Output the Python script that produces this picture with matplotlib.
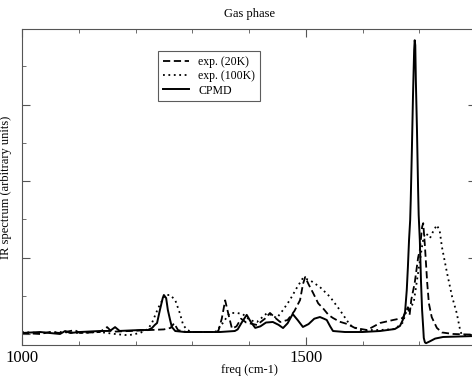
import matplotlib.pyplot as plt
from matplotlib.ticker import MultipleLocator, FixedLocator

# CPMD (solid)
cpmd_x = [1000, 1032, 1049, 1067, 1076, 1085, 1102, 1137, 1155, 1164, 1172, 1208,
          1222, 1229, 1234, 1238, 1243, 1248, 1250, 1254, 1257, 1261, 1264, 1270, 1287,
          1314, 1349, 1375, 1380, 1388, 1396, 1403, 1411, 1420, 1430, 1442, 1452, 1460,
          1468, 1477, 1486, 1495, 1505, 1515, 1525, 1532, 1537, 1543, 1548, 1569, 1600,
          1631, 1657, 1666, 1671, 1675, 1678, 1680, 1682, 1684, 1685, 1687, 1689, 1691,
          1692, 1693, 1694, 1696, 1698, 1699, 1701, 1703, 1705, 1707, 1708, 1710, 1712,
          1719, 1728, 1742, 1800]
cpmd_y = [0.013, 0.026, 0.013, 0.0, 0.039, 0.013, 0.026, 0.039, 0.04, 0.09, 0.04, 0.052,
          0.052, 0.078, 0.118, 0.144, 0.314, 0.47, 0.51, 0.47, 0.314, 0.183, 0.092, 0.039, 0.026,
          0.026, 0.026, 0.039, 0.06, 0.16, 0.25, 0.16, 0.08, 0.1, 0.15, 0.157, 0.12, 0.078,
          0.14, 0.261, 0.18, 0.092, 0.13, 0.2, 0.222, 0.2, 0.183, 0.1, 0.039, 0.026, 0.026,
          0.039, 0.065, 0.105, 0.183, 0.288, 0.575, 0.876, 1.229, 1.49, 1.752, 2.405, 3.124, 3.712,
          3.843, 3.778, 3.32, 2.667, 1.882, 1.556, 1.229, 0.706, 0.314, 0.078, -0.052, -0.11, -0.12,
          -0.095, -0.06, -0.039, -0.026]

# exp. (20K) (dashed)
k20_x = [1000, 1032, 1049, 1067, 1085, 1093, 1102, 1137, 1150, 1158, 1190, 1226, 1250,
         1262, 1268, 1275, 1290, 1340, 1346, 1352, 1358, 1364, 1370, 1378, 1386, 1395,
         1414, 1428, 1437, 1448, 1455, 1468, 1480, 1490, 1495, 1499, 1505, 1513, 1522,
         1530, 1540, 1548, 1560, 1573, 1587, 1608, 1631, 1654, 1671, 1680, 1683, 1686,
         1692, 1698, 1701, 1705, 1707, 1710, 1714, 1717, 1722, 1731, 1740, 1760, 1800]
k20_y = [0.013, 0.0, 0.026, 0.013, 0.039, 0.05, 0.013, 0.026, 0.09, 0.03, 0.039, 0.052, 0.06,
         0.08, 0.14, 0.05, 0.026, 0.026, 0.04, 0.2, 0.44, 0.25, 0.07, 0.1, 0.2, 0.15,
         0.118, 0.2, 0.275, 0.2, 0.157, 0.183, 0.3, 0.444, 0.65, 0.745, 0.65, 0.536, 0.4,
         0.34, 0.25, 0.209, 0.16, 0.131, 0.078, 0.052, 0.144, 0.183, 0.209, 0.35, 0.25, 0.45,
         0.667, 1.0, 1.098, 1.4, 1.45, 1.15, 0.67, 0.4, 0.22, 0.08, 0.02, 0.0, -0.01]

# exp. (100K) (dotted)
k100_x = [1000, 1032, 1067, 1102, 1137, 1164, 1181, 1190, 1208, 1222, 1229, 1240, 1252,
          1261, 1270, 1278, 1284, 1291, 1300, 1340, 1349, 1366, 1379, 1389, 1402, 1414,
          1432, 1449, 1460, 1472, 1485, 1495, 1507, 1525, 1543, 1560, 1578, 1596, 1631,
          1657, 1671, 1678, 1690, 1700, 1706, 1710, 1714, 1719, 1725, 1731, 1736, 1740,
          1749, 1758, 1766, 1772, 1775, 1800]
k100_y = [0.026, 0.013, 0.026, 0.013, 0.026, 0.0, -0.013, -0.013, 0.013, 0.065, 0.144, 0.34, 0.51,
          0.51, 0.444, 0.275, 0.118, 0.052, 0.026, 0.026, 0.092, 0.275, 0.275, 0.26, 0.18, 0.157,
          0.275, 0.209, 0.314, 0.444, 0.614, 0.732, 0.706, 0.614, 0.484, 0.314, 0.118, 0.052, 0.052,
          0.065, 0.15, 0.314, 0.4, 0.9, 1.2, 1.32, 1.3, 1.255, 1.35, 1.425, 1.35, 1.137,
          0.797, 0.484, 0.275, 0.052, -0.013, -0.013]

plt.rcParams['font.family'] = ['Liberation Serif', 'DejaVu Serif']

fig = plt.figure(figsize=(4.72, 3.77), dpi=100)
ax = fig.add_axes([22 / 472, 32 / 377, 454 / 472, 316 / 377])

ax.plot(k20_x, k20_y, color='black', lw=1.3, linestyle=(0, (4, 2)), label='exp. (20K)')
ax.plot(k100_x, k100_y, color='black', lw=1.3, linestyle=(0, (1, 2)), label='exp. (100K)')
ax.plot(cpmd_x, cpmd_y, color='black', lw=1.4, label='CPMD')

ax.set_xlim(1000, 1800)
ax.set_ylim(-0.144, 3.99)
ax.xaxis.set_major_locator(FixedLocator([1000, 1500]))
ax.xaxis.set_minor_locator(MultipleLocator(100))
ax.yaxis.set_major_locator(MultipleLocator(1))
ax.yaxis.set_minor_locator(MultipleLocator(0.5))
ax.set_yticklabels([])
ax.tick_params(which='both', direction='in', top=True, right=True, color='#555555')
ax.tick_params(which='major', length=6, labelsize=12)
ax.tick_params(which='minor', length=3)
for s in ax.spines.values():
    s.set_color('#555555')

ax.set_title('Gas phase', fontsize=9, pad=9)
ax.set_xlabel('freq (cm-1)', fontsize=9, labelpad=-1)
ax.set_ylabel('IR spectrum (arbitrary units)', fontsize=9, labelpad=4)

leg = ax.legend(loc='upper left', bbox_to_anchor=(0.2996, 0.930), fontsize=8.5,
                frameon=True, fancybox=False, handlelength=2.2, handletextpad=0.8,
                borderpad=0.4, labelspacing=0.2, borderaxespad=0)
leg.get_frame().set_edgecolor('#333333')
leg.get_frame().set_linewidth(0.8)

fig.savefig('out.png', dpi=100)
